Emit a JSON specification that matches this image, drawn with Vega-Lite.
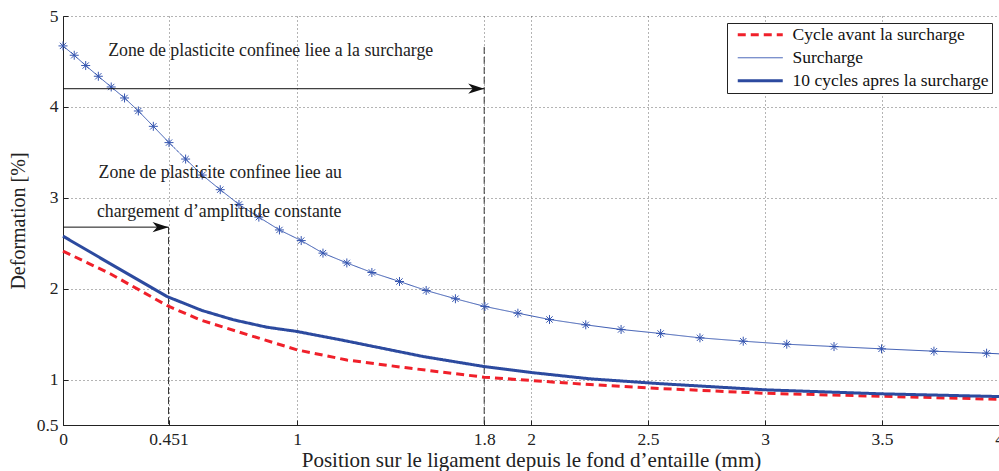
{
  "$schema": "https://vega.github.io/schema/vega-lite/v6.json",
  "width": 936,
  "height": 409,
  "autosize": "none",
  "padding": {"left": 63, "top": 16, "right": 0, "bottom": 46},
  "background": "white",
  "config": {
    "font": "Liberation Serif",
    "view": {"stroke": null},
    "axis": {
      "labelFont": "Liberation Serif",
      "titleFont": "Liberation Serif",
      "labelFontSize": 17.5,
      "titleFontSize": 21,
      "titleFontWeight": "normal",
      "labelColor": "#222",
      "titleColor": "#222",
      "domainColor": "#222",
      "tickColor": "#222",
      "tickSize": -5,
      "labelPadding": 10,
      "grid": true,
      "gridColor": "#444",
      "gridDash": [1, 3],
      "gridOpacity": 0.8,
      "labelFlush": false,
      "labelOverlap": false
    },
    "legend": {
      "labelFont": "Liberation Serif",
      "labelFontSize": 17.5,
      "labelColor": "#111",
      "labelLimit": 400
    }
  },
  "datasets": {
    "curves": [
      {"serie": "Cycle avant la surcharge", "x": 0, "y": 2.413},
      {"serie": "Cycle avant la surcharge", "x": 0.202, "y": 2.164},
      {"serie": "Cycle avant la surcharge", "x": 0.444, "y": 1.815},
      {"serie": "Cycle avant la surcharge", "x": 0.586, "y": 1.657},
      {"serie": "Cycle avant la surcharge", "x": 0.8, "y": 1.485},
      {"serie": "Cycle avant la surcharge", "x": 1.0, "y": 1.327},
      {"serie": "Cycle avant la surcharge", "x": 1.213, "y": 1.215},
      {"serie": "Cycle avant la surcharge", "x": 1.469, "y": 1.129},
      {"serie": "Cycle avant la surcharge", "x": 1.8, "y": 1.026},
      {"serie": "Cycle avant la surcharge", "x": 2.003, "y": 0.989},
      {"serie": "Cycle avant la surcharge", "x": 2.252, "y": 0.945},
      {"serie": "Cycle avant la surcharge", "x": 2.554, "y": 0.901},
      {"serie": "Cycle avant la surcharge", "x": 3.0, "y": 0.849},
      {"serie": "Cycle avant la surcharge", "x": 3.498, "y": 0.816},
      {"serie": "Cycle avant la surcharge", "x": 4.0, "y": 0.783},
      {"serie": "Surcharge", "x": 0.0, "y": 4.671},
      {"serie": "Surcharge", "x": 0.048, "y": 4.568},
      {"serie": "Surcharge", "x": 0.097, "y": 4.455},
      {"serie": "Surcharge", "x": 0.151, "y": 4.337},
      {"serie": "Surcharge", "x": 0.206, "y": 4.219},
      {"serie": "Surcharge", "x": 0.263, "y": 4.098},
      {"serie": "Surcharge", "x": 0.322, "y": 3.955},
      {"serie": "Surcharge", "x": 0.386, "y": 3.786},
      {"serie": "Surcharge", "x": 0.453, "y": 3.607},
      {"serie": "Surcharge", "x": 0.524, "y": 3.426},
      {"serie": "Surcharge", "x": 0.595, "y": 3.25},
      {"serie": "Surcharge", "x": 0.672, "y": 3.089},
      {"serie": "Surcharge", "x": 0.752, "y": 2.927},
      {"serie": "Surcharge", "x": 0.837, "y": 2.787},
      {"serie": "Surcharge", "x": 0.925, "y": 2.646},
      {"serie": "Surcharge", "x": 1.018, "y": 2.529},
      {"serie": "Surcharge", "x": 1.111, "y": 2.391},
      {"serie": "Surcharge", "x": 1.213, "y": 2.283},
      {"serie": "Surcharge", "x": 1.32, "y": 2.178},
      {"serie": "Surcharge", "x": 1.438, "y": 2.079},
      {"serie": "Surcharge", "x": 1.552, "y": 1.98},
      {"serie": "Surcharge", "x": 1.677, "y": 1.889},
      {"serie": "Surcharge", "x": 1.803, "y": 1.804},
      {"serie": "Surcharge", "x": 1.944, "y": 1.73},
      {"serie": "Surcharge", "x": 2.079, "y": 1.661},
      {"serie": "Surcharge", "x": 2.234, "y": 1.602},
      {"serie": "Surcharge", "x": 2.385, "y": 1.551},
      {"serie": "Surcharge", "x": 2.554, "y": 1.507},
      {"serie": "Surcharge", "x": 2.722, "y": 1.459},
      {"serie": "Surcharge", "x": 2.907, "y": 1.422},
      {"serie": "Surcharge", "x": 3.093, "y": 1.389},
      {"serie": "Surcharge", "x": 3.295, "y": 1.363},
      {"serie": "Surcharge", "x": 3.498, "y": 1.338},
      {"serie": "Surcharge", "x": 3.722, "y": 1.312},
      {"serie": "Surcharge", "x": 3.947, "y": 1.29},
      {"serie": "Surcharge", "x": 4.0, "y": 1.283},
      {"serie": "10 cycles apres la surcharge", "x": 0.0, "y": 2.578},
      {"serie": "10 cycles apres la surcharge", "x": 0.202, "y": 2.274},
      {"serie": "10 cycles apres la surcharge", "x": 0.444, "y": 1.914},
      {"serie": "10 cycles apres la surcharge", "x": 0.594, "y": 1.76},
      {"serie": "10 cycles apres la surcharge", "x": 0.729, "y": 1.657},
      {"serie": "10 cycles apres la surcharge", "x": 0.871, "y": 1.576},
      {"serie": "10 cycles apres la surcharge", "x": 1.0, "y": 1.529},
      {"serie": "10 cycles apres la surcharge", "x": 1.2, "y": 1.43},
      {"serie": "10 cycles apres la surcharge", "x": 1.54, "y": 1.253},
      {"serie": "10 cycles apres la surcharge", "x": 1.8, "y": 1.143},
      {"serie": "10 cycles apres la surcharge", "x": 2.003, "y": 1.077},
      {"serie": "10 cycles apres la surcharge", "x": 2.252, "y": 1.008},
      {"serie": "10 cycles apres la surcharge", "x": 2.55, "y": 0.955},
      {"serie": "10 cycles apres la surcharge", "x": 3.0, "y": 0.887},
      {"serie": "10 cycles apres la surcharge", "x": 3.498, "y": 0.843},
      {"serie": "10 cycles apres la surcharge", "x": 4.0, "y": 0.813}
    ],
    "arrows": [
      {"x": 0, "x2": 1.8, "y": 4.2},
      {"x": 0, "x2": 0.451, "y": 2.677}
    ],
    "vlines": [
      {"x": 0.451, "y": 2.677, "y2": 0.5},
      {"x": 1.8, "y": 4.66, "y2": 0.5}
    ],
    "notes": [
      {"x": 0.193, "y": 4.62, "label": "Zone de plasticite confinee liee a la surcharge"},
      {"x": 0.152, "y": 3.276, "label": "Zone de plasticite confinee liee au"},
      {"x": 0.145, "y": 2.842, "label": "chargement d’amplitude constante"}
    ]
  },
  "layer": [
    {
      "data": {"name": "vlines"},
      "mark": {"type": "rule", "color": "#333", "strokeWidth": 1, "strokeDash": [7, 3]},
      "encoding": {
        "x": {"field": "x", "type": "quantitative"},
        "y": {"field": "y", "type": "quantitative"},
        "y2": {"field": "y2"}
      }
    },
    {
      "data": {"name": "curves"},
      "mark": {"type": "line"},
      "encoding": {
        "x": {
          "field": "x", "type": "quantitative",
          "scale": {"domain": [0, 4], "nice": false, "zero": false},
          "axis": {"values": [0, 0.451, 1, 1.8, 2, 2.5, 3, 3.5, 4], "format": ".3~g", "title": "Position sur le ligament depuis le fond d’entaille (mm)", "titlePadding": 2}
        },
        "y": {
          "field": "y", "type": "quantitative",
          "scale": {"domain": [0.5, 5], "nice": false, "zero": false},
          "axis": {"values": [0.5, 1, 2, 3, 4, 5], "format": ".2~g", "title": "Deformation [%]", "titlePadding": 8, "titleFontSize": 20}
        },
        "color": {
          "field": "serie", "type": "nominal",
          "scale": {"domain": ["Cycle avant la surcharge", "Surcharge", "10 cycles apres la surcharge"], "range": ["#f0202a", "#3656b0", "#2c4a9f"]},
          "legend": {
            "title": null,
            "orient": "top-right",
            "offset": 7,
            "strokeColor": "#222",
            "fillColor": "white",
            "padding": 3,
            "rowPadding": 4,
            "symbolType": "M-0.2,0L8.8,0",
            "symbolSize": 100,
            "labelOffset": 45,
            "symbolFillColor": "transparent"
          }
        },
        "strokeDash": {
          "field": "serie", "type": "nominal",
          "scale": {"domain": ["Cycle avant la surcharge", "Surcharge", "10 cycles apres la surcharge"], "range": [[8, 5], [1, 0], [1, 0]]},
          "legend": null
        },
        "strokeWidth": {
          "field": "serie", "type": "nominal",
          "scale": {"type": "ordinal", "domain": ["Cycle avant la surcharge", "Surcharge", "10 cycles apres la surcharge"], "range": [3, 1, 3]},
          "legend": null
        }
      }
    },
    {
      "data": {"name": "curves"},
      "transform": [{"filter": "datum.serie == 'Surcharge' && datum.x < 3.99"}],
      "mark": {"type": "point", "shape": "M-1,0L1,0M0,-1L0,1M-0.7,-0.7L0.7,0.7M-0.7,0.7L0.7,-0.7", "filled": false, "size": 81, "strokeWidth": 1, "color": "#3656b0", "opacity": 1},
      "encoding": {
        "x": {"field": "x", "type": "quantitative"},
        "y": {"field": "y", "type": "quantitative"}
      }
    },
    {
      "data": {"name": "arrows"},
      "mark": {"type": "rule", "color": "#111", "strokeWidth": 1},
      "encoding": {
        "x": {"field": "x", "type": "quantitative"},
        "x2": {"field": "x2"},
        "y": {"field": "y", "type": "quantitative"}
      }
    },
    {
      "data": {"name": "arrows"},
      "mark": {"type": "point", "shape": "M0,0L-1,-0.32L-0.72,0L-1,0.32Z", "filled": true, "size": 1024, "color": "#111", "opacity": 1},
      "encoding": {
        "x": {"field": "x2", "type": "quantitative"},
        "y": {"field": "y", "type": "quantitative"}
      }
    },
    {
      "data": {"name": "notes"},
      "mark": {"type": "text", "align": "left", "baseline": "middle", "font": "Liberation Serif", "fontSize": 17.8, "color": "#222"},
      "encoding": {
        "x": {"field": "x", "type": "quantitative"},
        "y": {"field": "y", "type": "quantitative"},
        "text": {"field": "label"}
      }
    }
  ]
}
